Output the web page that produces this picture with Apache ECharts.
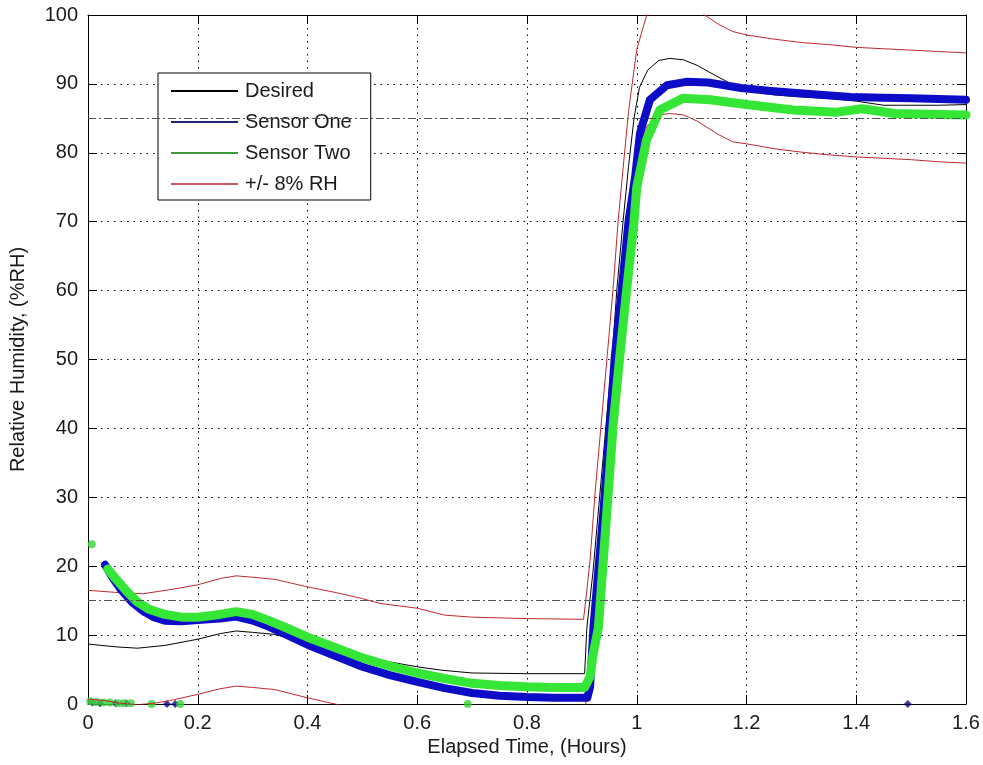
<!DOCTYPE html>
<html>
<head>
<meta charset="utf-8">
<title>Relative Humidity</title>
<script src="https://cdn.jsdelivr.net/npm/echarts@6/dist/echarts.min.js"></script>
<style>
  html, body { margin: 0; padding: 0; background: #fff; }
  #chart { width: 983px; height: 765px; }
</style>
</head>
<body>
<div id="chart"></div>
<script>
// values, [hours, %RH]
var desired = [[0, 8.7], [0.05, 8.3], [0.09, 8.1], [0.14, 8.5], [0.2, 9.4], [0.24, 10.2], [0.27, 10.6], [0.3, 10.4],
    [0.34, 10.1], [0.4, 8.9], [0.45, 8.0], [0.5, 7.0], [0.55, 6.1], [0.6, 5.4], [0.645, 4.9], [0.7, 4.5], [0.8, 4.4],
    [0.905, 4.4], [0.909, 11], [0.92, 19], [0.933, 30.6], [0.944, 40.5], [0.955, 50.4], [0.964, 60.4], [0.975, 70],
    [0.985, 78], [0.995, 85], [1.005, 89.5], [1.02, 92], [1.04, 93.4], [1.06, 93.7], [1.085, 93.5], [1.11, 92.7],
    [1.13, 91.8], [1.165, 90.3], [1.2, 89.0], [1.25, 88.4], [1.3, 88.1], [1.35, 87.9], [1.4, 87.5], [1.45, 86.9],
    [1.5, 86.9], [1.55, 86.9], [1.6, 87.0]];

var bandUpper = [[0, 16.5], [0.05, 16.2], [0.1, 16.0], [0.15, 16.6], [0.2, 17.3], [0.24, 18.2], [0.27, 18.6], [0.3, 18.4],
    [0.34, 18.1], [0.4, 17.0], [0.45, 16.2], [0.5, 15.3], [0.532, 14.6], [0.6, 13.9], [0.65, 12.9], [0.7, 12.6], [0.8, 12.4],
    [0.893, 12.3], [0.903, 12.3], [0.907, 15], [0.915, 20.9], [0.924, 30.6], [0.935, 40.5], [0.946, 50.4], [0.957, 60.4],
    [0.966, 70], [0.973, 76], [0.985, 86], [1.0, 95], [1.02, 100.5], [1.05, 101.5], [1.09, 101.5], [1.12, 100.2],
    [1.15, 98.6], [1.175, 97.6], [1.2, 97.1], [1.25, 96.5], [1.3, 96.0], [1.35, 95.7], [1.4, 95.3], [1.45, 95.1],
    [1.5, 94.9], [1.55, 94.7], [1.6, 94.5]];

var bandLower = [[0, 0.7], [0.03, 0.5], [0.06, 0.1], [0.09, -0.1], [0.12, 0.1], [0.15, 0.5], [0.2, 1.4], [0.24, 2.2],
    [0.27, 2.6], [0.3, 2.4], [0.34, 2.1], [0.4, 0.9], [0.45, 0], [0.5, -0.8], [0.6, -2.5], [0.7, -3.5], [0.8, -3.6],
    [0.905, -3.6], [0.909, 3], [0.92, 11], [0.933, 22.6], [0.944, 32.5], [0.955, 42.4], [0.964, 52.4], [0.975, 62],
    [0.985, 70], [0.995, 77], [1.005, 81.5], [1.02, 84], [1.04, 85.5], [1.06, 85.7], [1.085, 85.5], [1.11, 84.6],
    [1.13, 83.6], [1.15, 82.6], [1.175, 81.6], [1.2, 81.3], [1.25, 80.6], [1.3, 80.1], [1.35, 79.7], [1.4, 79.4],
    [1.45, 79.2], [1.5, 79.0], [1.55, 78.7], [1.6, 78.5]];

var sensorOne = [[0.031, 20.2], [0.045, 18.3], [0.06, 16.6], [0.08, 14.8], [0.1, 13.5], [0.12, 12.6], [0.14, 12.1],
    [0.17, 12.0], [0.2, 12.2], [0.24, 12.4], [0.27, 12.7], [0.3, 12.1], [0.33, 11.2], [0.36, 10.1], [0.4, 8.6],
    [0.45, 7.0], [0.5, 5.4], [0.55, 4.2], [0.6, 3.2], [0.65, 2.3], [0.7, 1.6], [0.75, 1.2], [0.8, 1.0], [0.85, 0.9],
    [0.91, 0.9], [0.915, 2.5], [0.921, 11], [0.93, 19.5], [0.939, 27.7], [0.951, 40.5], [0.96, 50.4], [0.973, 60.4],
    [0.985, 70], [0.997, 76.5], [1.006, 82.9], [1.024, 87.7], [1.055, 89.8], [1.09, 90.3], [1.13, 90.2], [1.19, 89.4],
    [1.24, 89.0], [1.285, 88.7], [1.34, 88.4], [1.39, 88.1], [1.45, 88.0], [1.5, 87.9], [1.55, 87.8], [1.6, 87.7]];

var sensorTwo = [[0.036, 19.6], [0.05, 18.2], [0.07, 16.4], [0.09, 14.8], [0.11, 13.8], [0.14, 13.0], [0.17, 12.6],
    [0.2, 12.6], [0.24, 13.0], [0.27, 13.4], [0.3, 13.0], [0.33, 12.1], [0.36, 11.1], [0.4, 9.7], [0.45, 8.2],
    [0.5, 6.7], [0.55, 5.5], [0.6, 4.5], [0.65, 3.7], [0.7, 3.0], [0.75, 2.7], [0.8, 2.5], [0.85, 2.4], [0.905, 2.4],
    [0.915, 4], [0.921, 7.5], [0.93, 11], [0.948, 30.6], [0.957, 40.5], [0.969, 50.4], [0.982, 60.4], [0.995, 70],
    [1.0, 75], [1.018, 81.9], [1.042, 86.2], [1.084, 87.9], [1.134, 87.7], [1.2, 87.0], [1.285, 86.2], [1.365, 85.9],
    [1.41, 86.4], [1.47, 85.7], [1.53, 85.6], [1.6, 85.5]];

// stray sensor readings (dropouts)
var sensorOneStray = [[0.008, 0.2], [0.022, 0.1], [0.05, 0.1], [0.07, 0.1], [0.144, 0], [0.159, 0], [1.494, 0]];
var sensorTwoStray = [[0.007, 23.2], [0.004, 0.4], [0.015, 0.3], [0.028, 0.2], [0.04, 0.2], [0.055, 0.1],
    [0.065, 0.1], [0.078, 0.1], [0.116, 0], [0.168, 0], [0.692, 0]];

var rhLimits = [15, 85];
var legendNames = ['Desired', 'Sensor One', 'Sensor Two', '+/- 8% RH'];
var legendColors = ['#000', '#23237a', '#3f9a3f', '#c55a5a'];

var FONT = "'Liberation Sans', Arial, sans-serif";
var TXT = '#1a1a1a';
var BLUE = '#0d0dc8', GREEN = '#36e636', RED = '#c0282d';

var myChart = echarts.init(document.getElementById('chart'));

var tickInside = { show: true, inside: true, length: 9, lineStyle: { color: '#000' } };
var dotted = { show: true, lineStyle: { color: '#000', type: [1.5, 5], width: 1 } };

var option = {
    animation: false,
    backgroundColor: '#fff',
    grid: { left: 88, top: 15, right: 17, bottom: 61 },
    legend: {
        orient: 'vertical',
        left: 158,
        top: 73,
        padding: [8, 19, 6, 13],
        itemGap: 11,
        itemWidth: 67,
        itemHeight: 2,
        icon: 'rect',
        borderColor: '#000',
        borderWidth: 1,
        backgroundColor: '#fff',
        textStyle: { fontFamily: FONT, fontSize: 20, color: TXT, lineHeight: 20, padding: [0, 0, 0, 2] },
        data: legendNames.map(function(n, i) {
            return {
                name: n,
                itemStyle: { color: legendColors[i] },
                lineStyle: { color: legendColors[i], width: 1.2 }
            };
        })
    },
    xAxis: [{
        type: 'value',
        min: 0,
        max: 1.6,
        interval: 0.2,
        position: 'bottom',
        name: 'Elapsed Time, (Hours)',
        nameLocation: 'middle',
        nameGap: 31,
        nameTextStyle: { fontFamily: FONT, fontSize: 20, color: TXT },
        axisLine: { show: true, onZero: false, lineStyle: { color: '#000' } },
        axisTick: tickInside,
        axisLabel: { fontFamily: FONT, fontSize: 20, color: TXT, margin: 9 },
        splitLine: dotted
    }, {
        type: 'value',
        min: 0,
        max: 1.6,
        interval: 0.2,
        position: 'top',
        axisLine: { show: true, onZero: false, lineStyle: { color: '#000' } },
        axisTick: tickInside,
        axisLabel: { show: false },
        splitLine: { show: false }
    }],
    yAxis: [{
        type: 'value',
        min: 0,
        max: 100,
        interval: 10,
        position: 'left',
        name: 'Relative Humidity, (%RH)',
        nameLocation: 'middle',
        nameGap: 60,
        nameTextStyle: { fontFamily: FONT, fontSize: 20, color: TXT },
        axisLine: { show: true, onZero: false, lineStyle: { color: '#000' } },
        axisTick: tickInside,
        axisLabel: { fontFamily: FONT, fontSize: 20, color: TXT, margin: 10 },
        splitLine: dotted
    }, {
        type: 'value',
        min: 0,
        max: 100,
        interval: 10,
        position: 'right',
        axisLine: { show: true, onZero: false, lineStyle: { color: '#000' } },
        axisTick: tickInside,
        axisLabel: { show: false },
        splitLine: { show: false }
    }],
    series: [{
        name: legendNames[3],
        type: 'line',
        data: bandUpper,
        symbol: 'none',
        color: RED,
        lineStyle: { color: RED, width: 1 },
        markLine: {
            silent: true,
            symbol: 'none',
            label: { show: false },
            lineStyle: { color: '#555', type: [8, 3, 2, 3], width: 1 },
            data: rhLimits.map(function(v) { return { yAxis: v }; })
        }
    }, {
        name: legendNames[3],
        type: 'line',
        data: bandLower,
        symbol: 'none',
        color: RED,
        lineStyle: { color: RED, width: 1 }
    }, {
        name: legendNames[0],
        type: 'line',
        data: desired,
        symbol: 'none',
        color: '#000',
        lineStyle: { color: '#000', width: 1 }
    }, {
        name: legendNames[1],
        type: 'line',
        data: sensorOne,
        symbol: 'none',
        color: BLUE,
        lineStyle: { color: BLUE, width: 8, cap: 'round', join: 'round' }
    }, {
        name: legendNames[1],
        type: 'scatter',
        data: sensorOneStray,
        symbol: 'diamond',
        symbolSize: 8,
        clip: false,
        itemStyle: { color: '#0a0a80' }
    }, {
        name: legendNames[2],
        type: 'line',
        data: sensorTwo,
        symbol: 'none',
        color: GREEN,
        lineStyle: { color: GREEN, width: 9, cap: 'round', join: 'round' }
    }, {
        name: legendNames[2],
        type: 'scatter',
        data: sensorTwoStray,
        symbol: 'circle',
        symbolSize: 8,
        clip: false,
        itemStyle: { color: '#3cd23c' }
    }]
};

myChart.setOption(option);
</script>
</body>
</html>
